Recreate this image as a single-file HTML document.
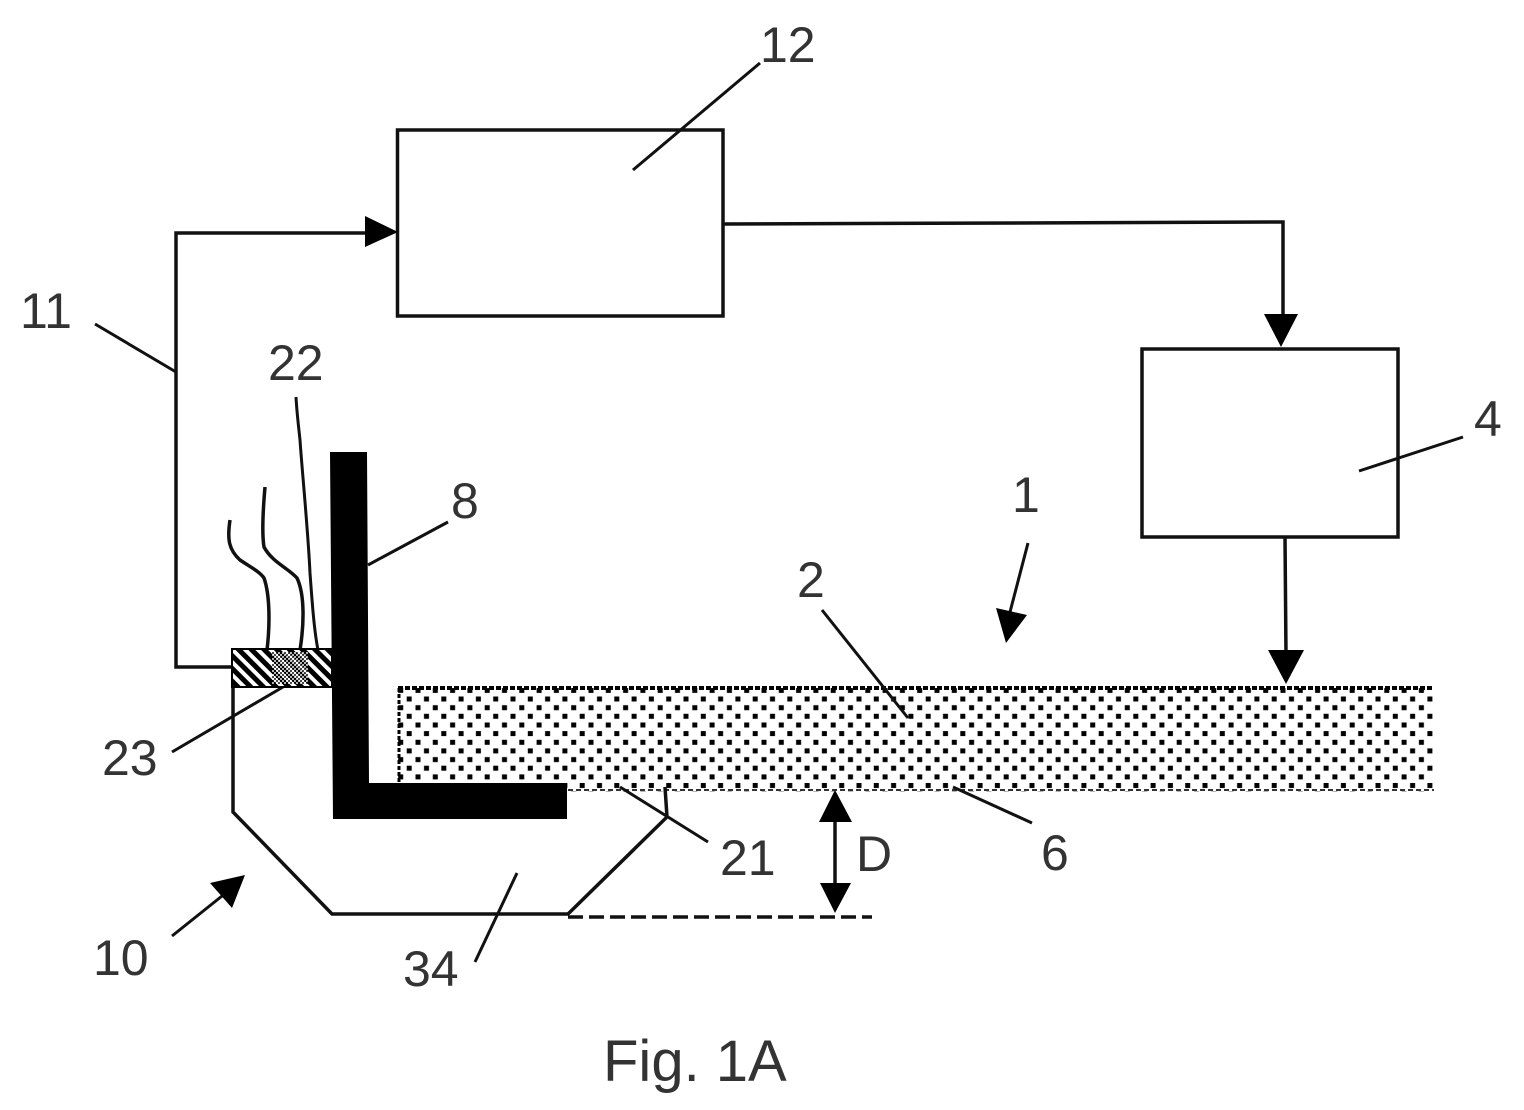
<!DOCTYPE html>
<html>
<head>
<meta charset="utf-8">
<style>
html,body{margin:0;padding:0;background:#fff}
svg{display:block}
text{font-family:"Liberation Sans",sans-serif;font-size:50px;fill:#333}
</style>
</head>
<body>
<svg width="1524" height="1110" viewBox="0 0 1524 1110" xmlns="http://www.w3.org/2000/svg">
<defs>
<pattern id="dots" x="398" y="695" width="17.3" height="17.3" patternUnits="userSpaceOnUse">
<rect width="17.3" height="17.3" fill="#fff"/>
<rect x="8.7" y="1.5" width="5" height="5" fill="#000"/>
<rect x="0.2" y="10.2" width="5" height="5" fill="#000"/>
</pattern>
<pattern id="hatch" width="9" height="9" patternUnits="userSpaceOnUse" patternTransform="rotate(45)">
<rect width="9" height="9" fill="#fff"/>
<rect width="9" height="5" fill="#000"/>
</pattern>
<pattern id="fine" width="4" height="4" patternUnits="userSpaceOnUse">
<rect width="4" height="4" fill="#fff"/>
<rect width="2" height="2" fill="#000"/>
<rect x="2" y="2" width="2" height="2" fill="#000"/>
</pattern>
</defs>
<rect x="398" y="688" width="1036" height="104" fill="url(#dots)"/>
<path d="M398,688 H1434" stroke="#000" stroke-width="4" stroke-dasharray="5 2"/>
<path d="M568,790 H1434" stroke="#333" stroke-width="2" stroke-dasharray="5 3"/>
<path d="M399,688 V783" stroke="#000" stroke-width="3" stroke-dasharray="4 2"/>
<g fill="none" stroke="#111" stroke-width="3.5">
<rect x="397.500" y="130" width="325.500" height="186"/>
<rect x="1142" y="349" width="256" height="188"/>
<polyline points="723,224 1283,222 1283,320"/>
<polyline points="1285,537 1286,655"/>
<polyline points="233,667 176,667 176,233 370,233"/>
<polyline points="233,686 233,812 332,914 568,914 667,817 665,787"/>
<path d="M568,917 H872" stroke-dasharray="15 6"/>
<path d="M835,815 V890"/>
<path d="M230,520 C227,540 229,550 240,560 C252,568 260,572 264,578 C270,595 270,625 267,650"/>
<path d="M265,487 C263,510 262,535 264,547 C272,562 288,568 297,578 C305,595 304,625 300,650"/>
<path d="M296,397 C297,415 299,430 300,440 C302,470 308,530 310,573 C312,600 314,630 318,650" stroke-width="3"/>
<path d="M368,565 L448,522" stroke-width="3"/>
<path d="M172,752 L283,687" stroke-width="3"/>
<path d="M95,324 L176,372" stroke-width="3"/>
<path d="M633,170 L760,63" stroke-width="3"/>
<path d="M1359,471 L1463,437" stroke-width="3"/>
<path d="M1028,543 L1010,612" stroke-width="3"/>
<path d="M822,610 L908,718" stroke-width="3"/>
<path d="M620,787 L708,842" stroke-width="3"/>
<path d="M953,787 L1032,823" stroke-width="3"/>
<path d="M475,962 L517,873" stroke-width="3"/>
<path d="M172,936 L222,896" stroke-width="3"/>
</g>
<rect x="232" y="649" width="100" height="38" fill="url(#hatch)" stroke="#000" stroke-width="2"/>
<rect x="272" y="652" width="36" height="32" fill="url(#fine)" opacity="0.7"/>
<path d="M330,452 H367 L369,783 H567 V819 H333 Z" fill="#000"/>
<g fill="#000">
<polygon points="398,232 365,216 365,247"/>
<polygon points="1264,314 1298,314 1281,347"/>
<polygon points="1268,650 1304,650 1286,684"/>
<polygon points="835,790 819,822 852,822"/>
<polygon points="835,913 820,883 851,883"/>
<polygon points="996,608 1027,615 1006,643"/>
<polygon points="245,875 210,883 232,908"/>
</g>
<text x="760" y="62">12</text>
<text x="20" y="328">11</text>
<text x="268" y="380">22</text>
<text x="451" y="518">8</text>
<text x="1012" y="512">1</text>
<text x="797" y="597">2</text>
<text x="1474" y="436">4</text>
<text x="102" y="775">23</text>
<text x="720" y="875">21</text>
<text x="1041" y="870">6</text>
<text x="856" y="871">D</text>
<text x="93" y="975">10</text>
<text x="403" y="986">34</text>
<text x="603" y="1081" style="font-size:58px">Fig. 1A</text>
</svg>
</body>
</html>
